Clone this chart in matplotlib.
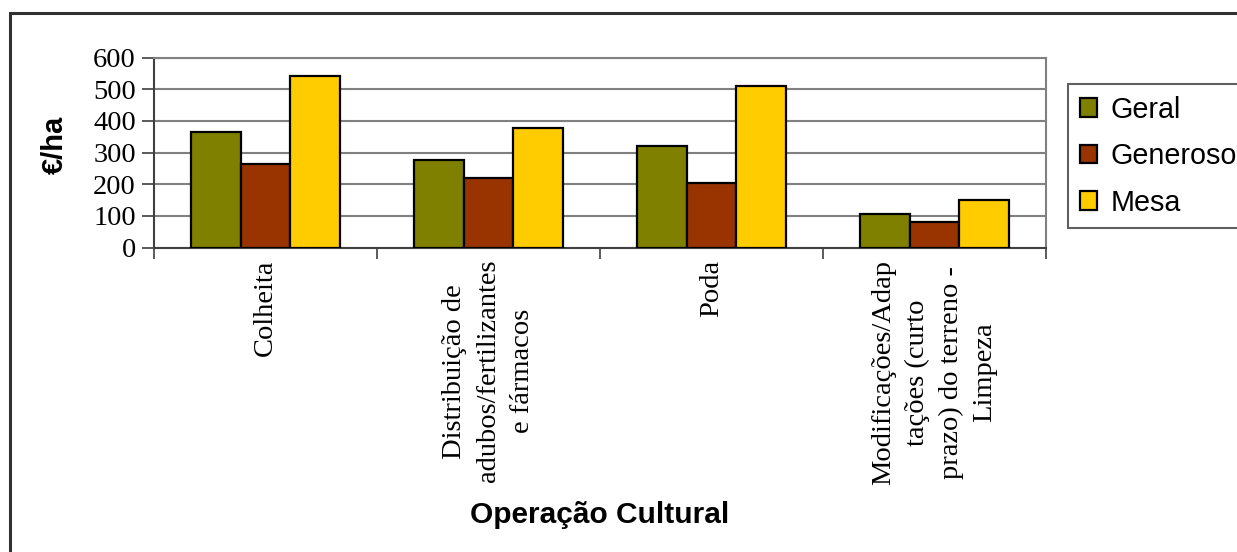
import matplotlib
matplotlib.use("Agg")
import matplotlib.pyplot as plt
import numpy as np
from matplotlib.patches import Rectangle

# Custo das operações culturais por tipo de vinha (€/ha)
categories = [
    "Colheita",
    "Distribuição de\nadubos/fertilizantes\ne fármacos",
    "Poda",
    "Modificações/Adap\ntações (curto\nprazo) do terreno -\nLimpeza",
]
series_names = ["Geral", "Generoso", "Mesa"]
geral = [365, 276, 320, 106]
generoso = [263, 220, 205, 80]
mesa = [542, 378, 510, 150]
colors = ["#808000", "#993300", "#FFCC00"]

W, H, DPI = 1237, 552, 100
SERIF = "Liberation Serif"
SANS = "Liberation Sans"
FS_SERIF = 20.5
FS_SANS = 21

fig = plt.figure(figsize=(W / DPI, H / DPI), dpi=DPI, facecolor="white")
ax = fig.add_axes([154 / W, 1 - 247.5 / H, (1046 - 154) / W, (247.5 - 57.5) / H])

x = np.arange(len(categories))
bw = 1 / 4.5
handles = []
for i, (vals, c, name) in enumerate(zip([geral, generoso, mesa], colors, series_names)):
    b = ax.bar(x + (i - 1) * bw, vals, width=bw, color=c, edgecolor="black",
               linewidth=1.6, label=name, zorder=3)
    handles.append(b)

ax.set_xlim(-0.5, len(categories) - 0.5)
ax.set_ylim(0, 600)
ax.set_yticks(np.arange(0, 601, 100))
ax.yaxis.grid(True, color="#808080", linewidth=1.5, zorder=0)

ax.set_xticks(np.arange(-0.5, len(categories), 1.0))
ax.set_xticklabels([])
ax.set_xticks(x, minor=True)
ax.set_xticklabels(categories, minor=True, rotation=90, fontfamily=SERIF,
                   fontsize=FS_SERIF, va="top", ha="center",
                   multialignment="center", linespacing=1.45)
ax.tick_params(axis="x", which="minor", length=0, pad=9)
ax.tick_params(axis="x", which="major", length=8, width=1.2, color="#404040")
ax.tick_params(axis="y", length=9, width=1.2, color="#404040", pad=4)
for lbl in ax.get_yticklabels():
    lbl.set_fontfamily(SERIF)
    lbl.set_fontsize(FS_SERIF)

for side in ("top", "right"):
    ax.spines[side].set_color("#808080")
    ax.spines[side].set_linewidth(1.5)
for side in ("left", "bottom"):
    ax.spines[side].set_color("#404040")
    ax.spines[side].set_linewidth(1.5)

fig.text(55 / W, 1 - 145 / H, "€/ha", rotation=90, ha="center", va="center",
         fontfamily=SANS, fontweight="bold", fontsize=FS_SANS)
fig.text(600 / W, 1 - 515 / H, "Operação Cultural", ha="center", va="center",
         fontfamily=SANS, fontweight="bold", fontsize=FS_SANS + 0.5)

leg = fig.legend(handles=handles, loc="upper left",
                 bbox_to_anchor=(1068 / W, 1 - 84 / H),
                 prop={"family": SANS, "size": FS_SANS - 0.3},
                 handlelength=0.62, handleheight=0.62, handletextpad=0.45,
                 labelspacing=0.65, borderpad=0.4, borderaxespad=0,
                 fancybox=False, framealpha=1, edgecolor="#606060")
leg.get_frame().set_linewidth(1.5)

# moldura exterior do gráfico
fig.patches.append(Rectangle((10 / W, -0.1), 1.2, 1.1 - 13 / H,
                             transform=fig.transFigure, fill=False,
                             edgecolor="#303030", linewidth=2.2, clip_on=False))

fig.savefig("out.png", dpi=DPI, facecolor="white")
